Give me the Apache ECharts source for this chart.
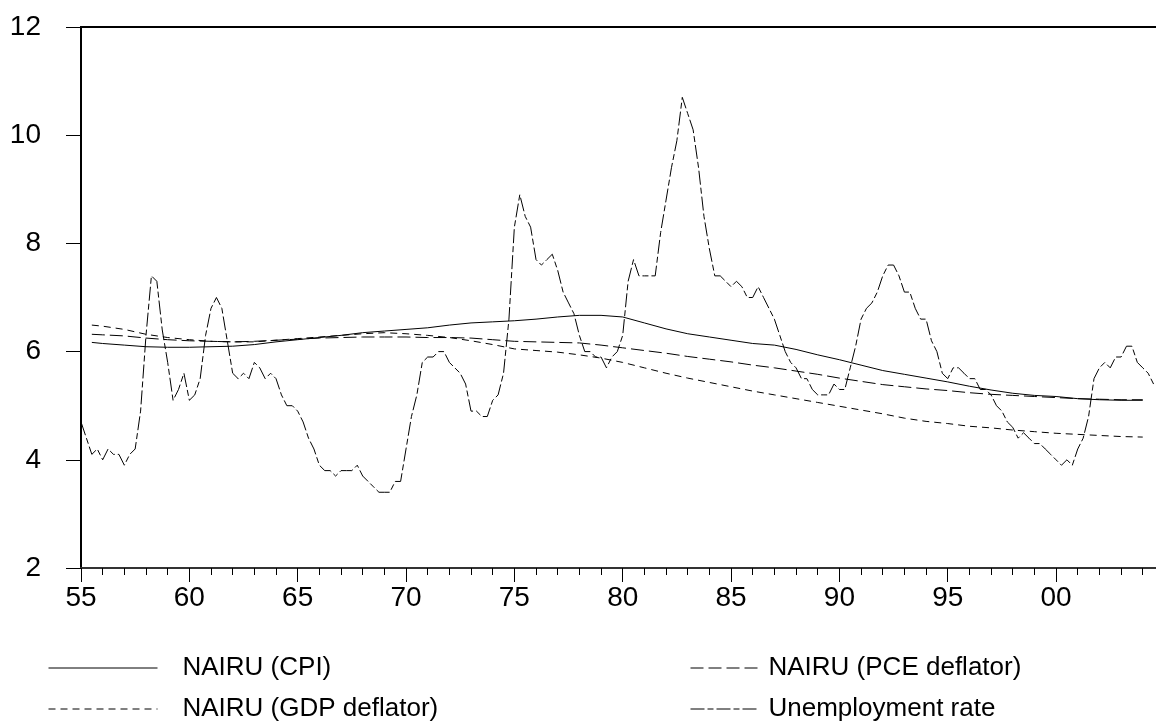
<!DOCTYPE html>
<html>
<head>
<meta charset="utf-8">
<script src="https://cdn.jsdelivr.net/npm/echarts@6/dist/echarts.min.js"></script>
<style>
html,body{margin:0;padding:0;background:#fff;}
#chart{width:1156px;height:725px;}
</style>
</head>
<body>
<div id="chart"></div>
<script>
// Quarterly unemployment rate, 1955Q1 .. 2004Q3
const unempStart = 1955;
const unemployment = [
  4.7, 4.4, 4.1, 4.2,   // 1955
  4.0, 4.2, 4.1, 4.1,   // 1956
  3.9, 4.1, 4.2, 4.9,   // 1957
  6.3, 7.4, 7.3, 6.4,   // 1958
  5.8, 5.1, 5.3, 5.6,   // 1959
  5.1, 5.2, 5.5, 6.3,   // 1960
  6.8, 7.0, 6.8, 6.2,   // 1961
  5.6, 5.5, 5.6, 5.5,   // 1962
  5.8, 5.7, 5.5, 5.6,   // 1963
  5.5, 5.2, 5.0, 5.0,   // 1964
  4.9, 4.7, 4.4, 4.2,   // 1965
  3.9, 3.8, 3.8, 3.7,   // 1966
  3.8, 3.8, 3.8, 3.9,   // 1967
  3.7, 3.6, 3.5, 3.4,   // 1968
  3.4, 3.4, 3.6, 3.6,   // 1969
  4.2, 4.8, 5.2, 5.8,   // 1970
  5.9, 5.9, 6.0, 6.0,   // 1971
  5.8, 5.7, 5.6, 5.4,   // 1972
  4.9, 4.9, 4.8, 4.8,   // 1973
  5.1, 5.2, 5.6, 6.6,   // 1974
  8.3, 8.9, 8.5, 8.3,   // 1975
  7.7, 7.6, 7.7, 7.8,   // 1976
  7.5, 7.1, 6.9, 6.7,   // 1977
  6.3, 6.0, 6.0, 5.9,   // 1978
  5.9, 5.7, 5.9, 6.0,   // 1979
  6.3, 7.3, 7.7, 7.4,   // 1980
  7.4, 7.4, 7.4, 8.2,   // 1981
  8.8, 9.4, 9.9, 10.7,  // 1982
  10.4, 10.1, 9.4, 8.5, // 1983
  7.9, 7.4, 7.4, 7.3,   // 1984
  7.2, 7.3, 7.2, 7.0,   // 1985
  7.0, 7.2, 7.0, 6.8,   // 1986
  6.6, 6.3, 6.0, 5.8,   // 1987
  5.7, 5.5, 5.5, 5.3,   // 1988
  5.2, 5.2, 5.2, 5.4,   // 1989
  5.3, 5.3, 5.7, 6.1,   // 1990
  6.6, 6.8, 6.9, 7.1,   // 1991
  7.4, 7.6, 7.6, 7.4,   // 1992
  7.1, 7.1, 6.8, 6.6,   // 1993
  6.6, 6.2, 6.0, 5.6,   // 1994
  5.5, 5.7, 5.7, 5.6,   // 1995
  5.5, 5.5, 5.3, 5.3,   // 1996
  5.2, 5.0, 4.9, 4.7,   // 1997
  4.6, 4.4, 4.5, 4.4,   // 1998
  4.3, 4.3, 4.2, 4.1,   // 1999
  4.0, 3.9, 4.0, 3.9,   // 2000
  4.2, 4.4, 4.8, 5.5,   // 2001
  5.7, 5.8, 5.7, 5.9,   // 2002
  5.9, 6.1, 6.1, 5.8,   // 2003
  5.7, 5.6, 5.4         // 2004
];

// NAIRU estimates
const nairuDates = [1955.5,1956,1957,1958,1959,1960,1961,1962,1963,1964,
  1965,1966,1967,1968,1969,1970,1971,1972,1973,1974,
  1975,1976,1977,1978,1979,1980,1981,1982,1983,1984,
  1985,1986,1987,1988,1989,1990,1991,1992,1993,1994,
  1995,1996,1997,1998,1999,2000,2001,2002,2003,2004];
const nairuCPI = [6.17,6.15,6.12,6.09,6.08,6.08,6.09,6.10,6.13,6.18,
  6.22,6.26,6.30,6.35,6.38,6.41,6.44,6.49,6.53,6.55,
  6.57,6.60,6.64,6.67,6.67,6.64,6.53,6.42,6.33,6.27,
  6.21,6.15,6.12,6.04,5.94,5.85,5.75,5.65,5.58,5.51,
  5.44,5.36,5.29,5.23,5.19,5.17,5.13,5.11,5.10,5.10];
const nairuPCE = [6.32,6.31,6.29,6.25,6.22,6.20,6.19,6.18,6.19,6.21,
  6.23,6.25,6.26,6.27,6.27,6.27,6.26,6.26,6.25,6.22,
  6.19,6.18,6.17,6.16,6.12,6.07,6.02,5.97,5.91,5.86,
  5.81,5.75,5.70,5.64,5.58,5.51,5.45,5.39,5.35,5.31,
  5.28,5.24,5.21,5.19,5.17,5.15,5.13,5.12,5.11,5.11];
const nairuGDP = [6.49,6.47,6.41,6.32,6.26,6.22,6.19,6.18,6.18,6.21,
  6.24,6.27,6.30,6.33,6.35,6.33,6.30,6.26,6.20,6.13,
  6.05,6.02,5.99,5.94,5.88,5.80,5.70,5.60,5.51,5.43,
  5.35,5.27,5.20,5.13,5.06,4.99,4.92,4.85,4.77,4.71,
  4.67,4.62,4.59,4.55,4.52,4.49,4.47,4.45,4.43,4.42];

const yTicks = {min: 2, max: 12, step: 2};
const xRange = {min: 1955, max: 2004.75};

const FONT = '"Liberation Sans", Arial, Helvetica, sans-serif';

const unempData = unemployment.map((v, i) => [unempStart + i / 4, v]);
const pair = arr => arr.map((v, i) => [nairuDates[i], v]);

const chart = echarts.init(document.getElementById('chart'), null, {renderer: 'canvas'});

function lineSeries(name, data, dash) {
  return {
    name, type: 'line', data, symbol: 'none', showSymbol: false, smooth: false,
    xAxisIndex: 0, yAxisIndex: 0, animation: false,
    lineStyle: {color: '#000', width: 1, type: dash},
    itemStyle: {color: '#000'},
    emphasis: {disabled: true}
  };
}

const legendCommon = {
  orient: 'vertical', top: 655, padding: 0,
  itemHeight: 24, itemGap: 15,
  selectedMode: false,
  itemStyle: {color: 'rgba(0,0,0,0)', borderColor: 'rgba(0,0,0,0)', borderWidth: 0, opacity: 0},
  lineStyle: {color: '#000', width: 1}
};

chart.setOption({
  backgroundColor: '#fff',
  animation: false,
  grid: {
    left: 81, right: -3, top: 27, bottom: 157,
    show: true, borderColor: '#000', borderWidth: 2,
    outerBoundsMode: 'none'
  },
  xAxis: [
    {
      type: 'value', min: xRange.min, max: xRange.max, interval: 1, position: 'bottom',
      axisLine: {show: true, lineStyle: {color: '#333', width: 2}},
      axisTick: {show: true, inside: false, length: 7, lineStyle: {color: '#000', width: 1}},
      axisLabel: {show: false},
      splitLine: {show: false}
    },
    {
      type: 'value', min: xRange.min, max: xRange.max, interval: 5, position: 'bottom',
      axisLine: {show: false},
      axisTick: {show: true, inside: false, length: 14, lineStyle: {color: '#000', width: 1}},
      axisLabel: {
        show: true, fontSize: 28, color: '#000', fontFamily: FONT, margin: 16,
        showMaxLabel: false,
        formatter: v => (Math.abs(v % 5) < 1e-6) ? String(Math.round(v) % 100).padStart(2, '0') : ''
      },
      splitLine: {show: false}
    }
  ],
  yAxis: {
    type: 'value', min: yTicks.min, max: yTicks.max, interval: yTicks.step,
    axisLine: {show: true, lineStyle: {color: '#000', width: 2}},
    axisTick: {show: true, inside: false, length: 15, lineStyle: {color: '#000', width: 1}},
    axisLabel: {fontSize: 28, color: '#000', fontFamily: FONT, margin: 40, padding: [0, 0, 14, 0]},
    splitLine: {show: false}
  },
  legend: [
    Object.assign({}, legendCommon, {
      data: ['NAIRU (CPI)', 'NAIRU (GDP deflator)'],
      left: 48, itemWidth: 109,
      textStyle: {fontSize: 26, color: '#000', fontFamily: FONT, lineHeight: 24, padding: [0, 0, 0, 20]}
    }),
    Object.assign({}, legendCommon, {
      data: ['NAIRU (PCE deflator)', 'Unemployment rate'],
      left: 690, itemWidth: 67,
      textStyle: {fontSize: 26, color: '#000', fontFamily: FONT, lineHeight: 24, padding: [0, 0, 0, 6]}
    })
  ],
  series: [
    lineSeries('NAIRU (CPI)', pair(nairuCPI), 'solid'),
    lineSeries('NAIRU (PCE deflator)', pair(nairuPCE), [13, 5]),
    lineSeries('NAIRU (GDP deflator)', pair(nairuGDP), [7, 5]),
    lineSeries('Unemployment rate', unempData, [14, 3, 6, 3])
  ]
});
</script>
</body>
</html>
